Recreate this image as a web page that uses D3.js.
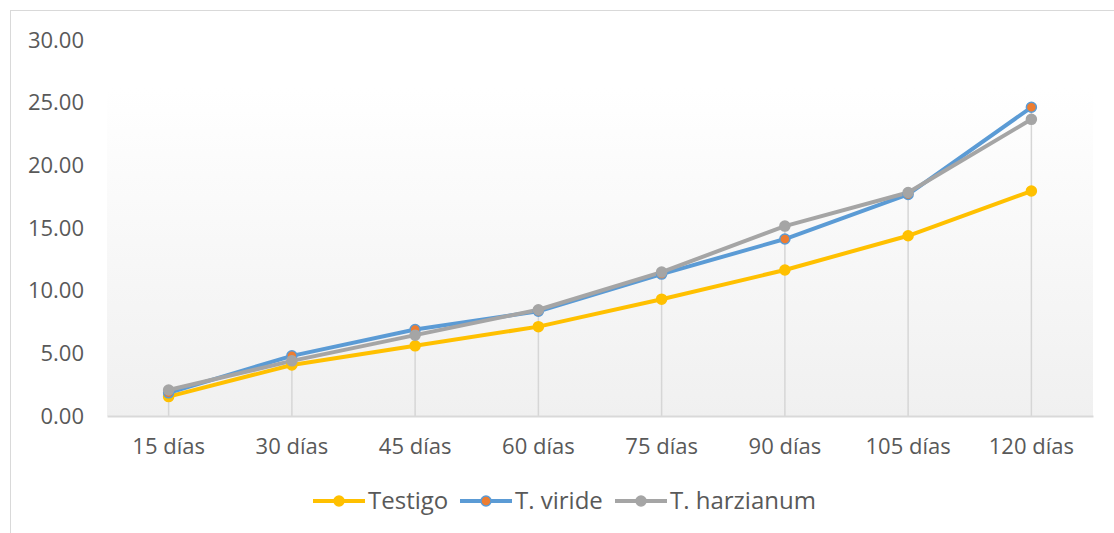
<!DOCTYPE html>
<html>
<head>
<meta charset="utf-8">
<script src="https://cdn.jsdelivr.net/npm/d3@7"></script>
<style>
  html, body { margin: 0; padding: 0; background: #ffffff; }
  svg { display: block; }
</style>
</head>
<body>
<script>
const categories = ["15 días", "30 días", "45 días", "60 días", "75 días", "90 días", "105 días", "120 días"];
const testigo = [1.55, 4.07, 5.6, 7.13, 9.32, 11.65, 14.38, 17.95];
const tViride = [1.85, 4.8, 6.9, 8.36, 11.32, 14.12, 17.68, 24.63];
const tHarzianum = [2.07, 4.4, 6.45, 8.48, 11.48, 15.15, 17.83, 23.67];
const yTicks = [0, 5, 10, 15, 20, 25, 30];

const series = [
  { name: "Testigo", values: testigo, color: "#FFC000", fill: "#FFC000" },
  { name: "T. viride", values: tViride, color: "#5B9BD5", fill: "#ED7D31" },
  { name: "T. harzianum", values: tHarzianum, color: "#A5A5A5", fill: "#A5A5A5" }
];

const W = 1114, H = 533;
const svg = d3.select("body").append("svg").attr("width", W).attr("height", H);
const font = "'Open Sans', 'Noto Sans', sans-serif";
const textColor = "#595959";

// outer chart border
svg.append("rect").attr("x", 10.5).attr("y", 10.5).attr("width", W + 20).attr("height", H + 20)
  .attr("fill", "#ffffff").attr("stroke", "#d9d9d9").attr("stroke-width", 1);

const mLeft = 107, mRight = 1093, mTop = 40, mBottom = 416, plotTop = 88;

const x = d3.scaleBand().domain(categories).range([mLeft, mRight]);
const y = d3.scaleLinear().domain([0, 30]).range([mBottom, mTop]);

// plot area gradient
const defs = svg.append("defs");
const grad = defs.append("linearGradient").attr("id", "pa").attr("x1", 0).attr("y1", 0).attr("x2", 0).attr("y2", 1);
grad.append("stop").attr("offset", "0%").attr("stop-color", "#ffffff");
grad.append("stop").attr("offset", "100%").attr("stop-color", "#f0f0f0");
svg.append("rect").attr("x", mLeft).attr("y", plotTop).attr("width", mRight - mLeft).attr("height", mBottom - plotTop)
  .attr("fill", "url(#pa)");

// drop lines
const maxVals = categories.map((c, i) => d3.max(series, s => s.values[i]));
svg.append("g").selectAll("line").data(categories).join("line")
  .attr("x1", d => x(d) + x.bandwidth() / 2).attr("x2", d => x(d) + x.bandwidth() / 2)
  .attr("y1", mBottom).attr("y2", (d, i) => y(maxVals[i]))
  .attr("stroke", "#d6d6d6").attr("stroke-width", 1.5);

// y axis labels
const yAxis = d3.axisLeft(y).tickValues(yTicks).tickFormat(d3.format(".2f")).tickSize(0).tickPadding(0);
const yg = svg.append("g").attr("transform", `translate(${84},0)`).call(yAxis);
yg.select(".domain").remove();
yg.selectAll("text").attr("font-family", font).attr("font-size", 22).attr("fill", textColor);

// x axis
const xAxis = d3.axisBottom(x).tickSize(0).tickPadding(22);
const xg = svg.append("g").attr("transform", `translate(0,${mBottom})`).call(xAxis);
xg.select(".domain").attr("stroke", "#d9d9d9").attr("stroke-width", 2);
xg.selectAll("text").attr("font-family", font).attr("font-size", 22).attr("fill", textColor);

// lines and markers
const line = d3.line().x((d, i) => x(categories[i]) + x.bandwidth() / 2).y(d => y(d));
series.forEach(s => {
  svg.append("path").datum(s.values).attr("d", line)
    .attr("fill", "none").attr("stroke", s.color).attr("stroke-width", 4).attr("stroke-linejoin", "round");
});
series.forEach(s => {
  svg.append("g").selectAll("circle").data(s.values).join("circle")
    .attr("cx", (d, i) => x(categories[i]) + x.bandwidth() / 2).attr("cy", d => y(d))
    .attr("r", 5).attr("fill", s.fill).attr("stroke", s.color).attr("stroke-width", 1.5);
});

// legend
const legendX = [313, 460, 615];
const lg = svg.append("g");
series.forEach((s, i) => {
  const g = lg.append("g").attr("transform", `translate(${legendX[i]},501)`);
  g.append("line").attr("x1", 0).attr("x2", 52).attr("y1", 0).attr("y2", 0)
    .attr("stroke", s.color).attr("stroke-width", 4);
  g.append("circle").attr("cx", 26).attr("cy", 0).attr("r", 5).attr("fill", s.fill)
    .attr("stroke", s.color).attr("stroke-width", 1.5);
  g.append("text").attr("x", 55).attr("y", 0).attr("dy", "0.35em").text(s.name)
    .attr("font-family", font).attr("font-size", 24).attr("fill", textColor);
});
</script>
</body>
</html>
